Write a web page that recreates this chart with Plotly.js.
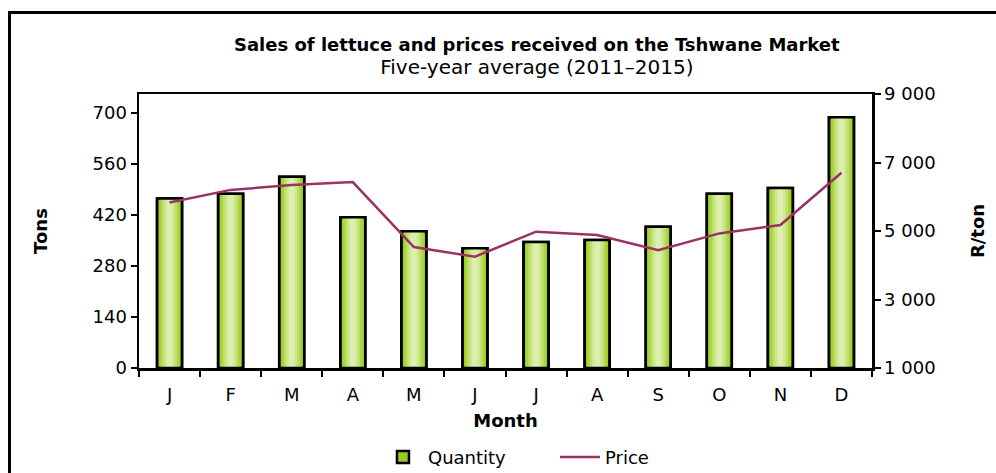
<!DOCTYPE html>
<html><head><meta charset="utf-8">
<script src="https://cdn.plot.ly/plotly-3.0.1.min.js"></script>
<style>
html,body{margin:0;padding:0;background:#fff;overflow:hidden;}
#wrap{position:relative;width:996px;height:473px;}
#chart{position:absolute;left:0;top:0;width:996px;height:473px;}
#frame{position:absolute;left:8px;top:11px;width:1100px;height:600px;border:3px solid #000;pointer-events:none;}
</style></head>
<body><div id="wrap"><div id="chart"></div><div id="frame"></div></div>
<script>
const months = ["J","F","M","A","M","J","J","A","S","O","N","D"];
const quantity = [465, 478, 525, 414, 375, 329, 346, 351, 388, 478, 494, 688];
const price = [5830, 6200, 6340, 6430, 4530, 4250, 4980, 4880, 4440, 4930, 5175, 6700];
const tonsTicks = [0, 140, 280, 420, 560, 700];
const priceTicks = [1000, 3000, 5000, 7000, 9000];
const priceTickText = ["1 000", "3 000", "5 000", "7 000", "9 000"];

const idx = months.map((m, i) => i);
const F = "DejaVu Sans, Liberation Sans, Arial, sans-serif";

// gradient simulation: layered bars
const layers = [
  {w: 0.41, c: "#99cc1a"},
  {w: 0.33, c: "#aad43f"},
  {w: 0.25, c: "#bde069"},
  {w: 0.17, c: "#cfe892"},
  {w: 0.09, c: "#ddefb0"}
];
const traces = layers.map((l, k) => ({
  type: "bar", x: idx, y: quantity, width: l.w, name: "Quantity",
  marker: {color: l.c, line: {color: k === 0 ? "#000" : "rgba(0,0,0,0)", width: k === 0 ? 2.5 : 0}},
  showlegend: k === 0, hoverinfo: "skip"
}));
traces.push({
  type: "bar", x: idx, y: quantity, width: 0.41, name: "Quantity outline",
  marker: {color: "rgba(0,0,0,0)", line: {color: "#000", width: 2.5}},
  showlegend: false, hoverinfo: "skip"
});
traces.push({
  type: "scatter", mode: "lines", x: idx, y: price, yaxis: "y2", name: "Price",
  line: {color: "#993366", width: 2.5}
});

const layout = {
  width: 996, height: 473,
  margin: {l: 139, r: 124, t: 94, b: 105},
  paper_bgcolor: "#fff", plot_bgcolor: "#fff",
  font: {family: F, color: "#000", size: 18},
  barmode: "overlay",
  title: {
    text: "<b>Sales of lettuce and prices received on the Tshwane Market</b><br><span style='font-size:20px'>Five-year average (2011–2015)</span>",
    font: {family: F, size: 18, color: "#000"},
    x: 0.539, xanchor: "center", y: 0.892, yanchor: "top"
  },
  xaxis: {
    range: [-0.5, 11.5], tickmode: "array", tickvals: idx, ticktext: months,
    ticks: "outside", ticklen: 9, tickcolor: "rgba(0,0,0,0)",
    showline: true, linecolor: "#000", linewidth: 2.5, mirror: true,
    showgrid: false, zeroline: false, tickfont: {size: 18},
    minor: {tickmode: "linear", tick0: -0.5, dtick: 1, ticks: "outside", ticklen: 6, tickwidth: 2, tickcolor: "#000", showgrid: false},
    title: {text: "<b>Month</b>", font: {size: 18}, standoff: 11}
  },
  yaxis: {
    range: [0, 752], tickmode: "array", tickvals: tonsTicks,
    ticks: "outside", ticklen: 6, tickwidth: 2, tickcolor: "#000",
    showline: true, linecolor: "#000", linewidth: 2.5,
    showgrid: false, zeroline: false, tickfont: {size: 18},
    title: {text: "<b>Tons</b>", font: {size: 18}, standoff: 40}
  },
  yaxis2: {
    overlaying: "y", side: "right", range: [1000, 9000],
    tickmode: "array", tickvals: priceTicks, ticktext: priceTickText,
    ticks: "outside", ticklen: 6, tickwidth: 2, tickcolor: "#000",
    showline: true, linecolor: "#000", linewidth: 2.5,
    showgrid: false, zeroline: false, tickfont: {size: 18},
    title: {text: "<b>R/ton</b>", font: {size: 18}, standoff: 37}
  },
  legend: {
    orientation: "h", x: 0.326, xanchor: "left", yref: "container", y: 0.033, yanchor: "middle",
    font: {size: 18}, bgcolor: "rgba(0,0,0,0)",
    entrywidth: 122, entrywidthmode: "pixels", itemwidth: 40
  },
  showlegend: true
};

Plotly.newPlot("chart", traces, layout, {displayModeBar: false, staticPlot: true});
</script>
</body></html>
